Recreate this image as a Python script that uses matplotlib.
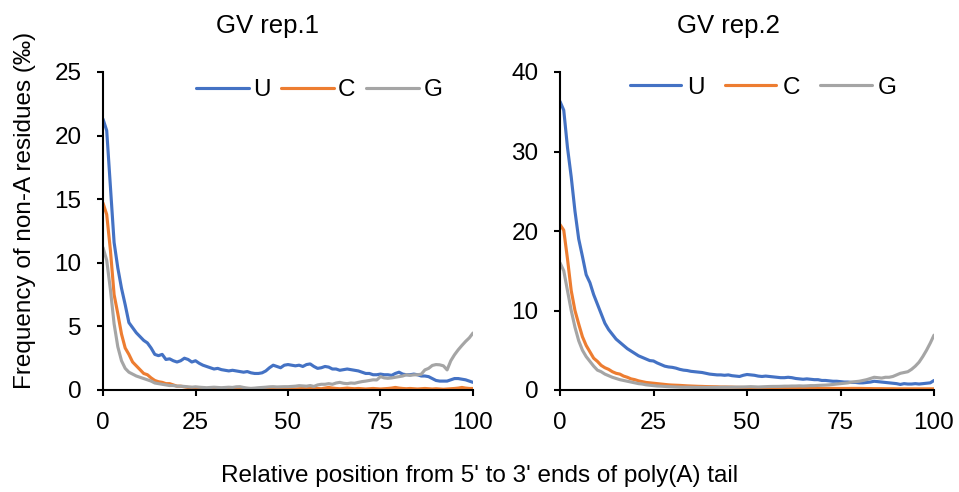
import numpy as np
import matplotlib
matplotlib.use("Agg")
import matplotlib.pyplot as plt

plt.rcParams['font.family'] = ['Liberation Sans', 'DejaVu Sans']

# position along the tail (0..100)
positions = list(range(101))

# GV rep.1 (per mille)
rep1_U = [21.3, 20.4, 16.0, 11.6, 9.6, 8.0, 6.7, 5.3, 4.9, 4.5,
          4.2, 3.9, 3.7, 3.3, 2.8, 2.7, 2.8, 2.4, 2.45, 2.3,
          2.2, 2.3, 2.5, 2.4, 2.2, 2.3, 2.1, 1.95, 1.85, 1.75,
          1.65, 1.7, 1.6, 1.55, 1.5, 1.55, 1.5, 1.45, 1.4, 1.45,
          1.35, 1.3, 1.3, 1.35, 1.5, 1.75, 1.95, 1.85, 1.75, 1.95,
          2.0, 1.95, 1.9, 1.95, 1.85, 2.0, 2.05, 1.85, 1.7, 1.75,
          1.85, 1.8, 1.65, 1.65, 1.55, 1.6, 1.65, 1.6, 1.55, 1.5,
          1.4, 1.3, 1.3, 1.2, 1.2, 1.25, 1.2, 1.2, 1.15, 1.3,
          1.4, 1.25, 1.2, 1.2, 1.25, 1.2, 1.1, 1.1, 1.05, 0.9,
          0.75, 0.7, 0.7, 0.7, 0.8, 0.9, 0.9, 0.85, 0.8, 0.7,
          0.6]
rep1_C = [14.7, 13.8, 11.0, 7.5, 6.0, 4.4, 3.3, 2.8, 2.2, 1.9,
          1.6, 1.3, 1.2, 0.95, 0.75, 0.65, 0.6, 0.5, 0.5, 0.4,
          0.3, 0.3, 0.25, 0.2, 0.2, 0.12, 0.08, 0.1, 0.08, 0.1,
          0.08, 0.1, 0.12, 0.1, 0.08, 0.1, 0.1, 0.08, 0.1, 0.12,
          0.1, 0.08, 0.1, 0.1, 0.08, 0.1, 0.12, 0.1, 0.08, 0.06,
          0.08, 0.1, 0.08, 0.1, 0.12, 0.1, 0.15, 0.2, 0.12, 0.1,
          0.15, 0.2, 0.15, 0.12, 0.1, 0.12, 0.15, 0.12, 0.1, 0.12,
          0.1, 0.08, 0.1, 0.12, 0.1, 0.08, 0.1, 0.12, 0.15, 0.2,
          0.15, 0.12, 0.1, 0.12, 0.1, 0.08, 0.1, 0.12, 0.1, 0.08,
          0.1, 0.08, 0.06, 0.08, 0.1, 0.12, 0.15, 0.2, 0.15, 0.12,
          0.12]
rep1_G = [11.2, 10.2, 7.9, 5.2, 3.4, 2.3, 1.7, 1.4, 1.25, 1.1,
          1.0, 0.9, 0.8, 0.7, 0.55, 0.5, 0.45, 0.4, 0.35, 0.35,
          0.3, 0.3, 0.28, 0.25, 0.22, 0.25, 0.22, 0.2, 0.18, 0.2,
          0.22, 0.2, 0.18, 0.2, 0.22, 0.2, 0.25, 0.26, 0.2, 0.15,
          0.13, 0.15, 0.18, 0.2, 0.22, 0.25, 0.26, 0.24, 0.25, 0.26,
          0.26, 0.28, 0.3, 0.34, 0.32, 0.3, 0.35, 0.28, 0.4, 0.45,
          0.45, 0.5, 0.45, 0.55, 0.6, 0.53, 0.5, 0.55, 0.53, 0.6,
          0.66, 0.7, 0.75, 0.8, 0.79, 1.05, 0.95, 0.92, 0.95, 1.0,
          1.05, 1.1, 1.2, 1.15, 1.19, 1.2, 1.24, 1.58, 1.7, 1.93,
          2.0, 1.98, 1.9, 1.58, 2.3, 2.77, 3.16, 3.5, 3.82, 4.1,
          4.48]

# GV rep.2 (per mille)
rep2_U = [36.3, 35.2, 30.5, 26.8, 22.5, 19.0, 16.8, 14.5, 13.5, 12.0,
          10.8, 9.6, 8.4, 7.6, 7.0, 6.4, 6.0, 5.6, 5.2, 4.9,
          4.6, 4.3, 4.1, 3.9, 3.7, 3.65, 3.4, 3.2, 3.0, 2.9,
          2.85, 2.75, 2.6, 2.5, 2.45, 2.35, 2.3, 2.25, 2.2, 2.1,
          2.0, 1.95, 1.9, 1.9, 1.85, 1.9, 1.8, 1.75, 1.7, 1.85,
          1.95, 1.9, 1.85, 1.75, 1.7, 1.75, 1.7, 1.65, 1.6, 1.55,
          1.55, 1.6, 1.55, 1.45, 1.4, 1.35, 1.4, 1.35, 1.3, 1.3,
          1.2, 1.2, 1.15, 1.1, 1.1, 1.05, 1.0, 1.0, 0.95, 0.95,
          0.9, 0.9, 0.95, 1.0, 1.1, 1.05, 1.0, 0.95, 0.9, 0.85,
          0.8, 0.7, 0.8, 0.75, 0.75, 0.8, 0.75, 0.8, 0.85, 0.9,
          1.2]
rep2_C = [20.8, 20.1, 16.5, 12.5, 10.0, 8.3, 6.7, 5.6, 4.8, 4.0,
          3.6, 3.1, 2.8, 2.6, 2.3, 2.1, 2.0, 1.75, 1.6, 1.4,
          1.3, 1.15, 1.05, 0.95, 0.9, 0.85, 0.8, 0.75, 0.7, 0.65,
          0.62, 0.6, 0.58, 0.55, 0.52, 0.5, 0.48, 0.46, 0.45, 0.43,
          0.42, 0.41, 0.4, 0.38, 0.38, 0.37, 0.36, 0.34, 0.33, 0.32,
          0.3, 0.3, 0.29, 0.28, 0.28, 0.27, 0.27, 0.26, 0.25, 0.25,
          0.25, 0.24, 0.24, 0.23, 0.23, 0.22, 0.22, 0.22, 0.21, 0.21,
          0.2, 0.2, 0.2, 0.2, 0.19, 0.19, 0.19, 0.19, 0.2, 0.2,
          0.2, 0.19, 0.18, 0.18, 0.17, 0.17, 0.17, 0.16, 0.16, 0.16,
          0.15, 0.15, 0.15, 0.15, 0.15, 0.15, 0.15, 0.15, 0.15, 0.15,
          0.15]
rep2_G = [16.0, 15.0, 12.5, 10.0, 7.9, 6.2, 5.0, 4.2, 3.6, 3.0,
          2.5, 2.3, 2.0, 1.8, 1.6, 1.45, 1.3, 1.2, 1.1, 1.0,
          0.9, 0.8, 0.75, 0.65, 0.6, 0.55, 0.5, 0.48, 0.45, 0.42,
          0.4, 0.38, 0.36, 0.35, 0.35, 0.34, 0.33, 0.33, 0.32, 0.32,
          0.32, 0.32, 0.33, 0.34, 0.35, 0.35, 0.36, 0.36, 0.37, 0.38,
          0.4, 0.42, 0.4, 0.38, 0.4, 0.42, 0.44, 0.45, 0.45, 0.46,
          0.48, 0.48, 0.5, 0.5, 0.52, 0.5, 0.52, 0.55, 0.55, 0.58,
          0.6, 0.62, 0.65, 0.7, 0.75, 0.8, 0.85, 0.9, 1.0, 1.05,
          1.1, 1.2, 1.3, 1.45, 1.6, 1.55, 1.5, 1.6, 1.6, 1.7,
          1.9, 2.1, 2.2, 2.3, 2.6, 3.0, 3.5, 4.2, 5.0, 5.9,
          6.9]

titles = ["GV rep.1", "GV rep.2"]
ymaxes = [25, 40]
ysteps = [5, 10]
colors = {"U": "#4472C4", "C": "#ED7D31", "G": "#A5A5A5"}

W, H = 959, 492
fig = plt.figure(figsize=(W / 100, H / 100), dpi=100)
ax1 = fig.add_axes([103 / W, 1 - 390 / H, 370 / W, 318 / H])
ax2 = fig.add_axes([560 / W, 1 - 390 / H, 374 / W, 318 / H])

data = [{"U": rep1_U, "C": rep1_C, "G": rep1_G},
        {"U": rep2_U, "C": rep2_C, "G": rep2_G}]

# legend placement, tuned per panel (Excel spacing differs a bit)
leg_anchor = [(0.251, 0.943), (0.187, 0.95)]
leg_hlen = [2.18, 2.1]
leg_tpad = [0.16, 0.25]
leg_cspace = [0.45, 0.85]
title_x = [267, 728]

for i, ax in enumerate([ax1, ax2]):
    for key in ["U", "C", "G"]:
        ax.plot(positions, data[i][key], color=colors[key], lw=2.25,
                label=key, solid_capstyle='round', solid_joinstyle='round')
    ax.set_xlim(0, 100)
    ax.set_ylim(0, ymaxes[i])
    ax.set_xticks([0, 25, 50, 75, 100])
    ax.set_yticks(np.arange(0, ymaxes[i] + 1, ysteps[i]))
    for s in ["top", "right"]:
        ax.spines[s].set_visible(False)
    for s in ["left", "bottom"]:
        ax.spines[s].set_linewidth(1.5)
    ax.tick_params(direction='out', length=4.5, width=1.5, labelsize=17.5, pad=11)
    ax.legend(loc='center left', bbox_to_anchor=leg_anchor[i], ncol=3,
              frameon=False, fontsize=17.5, handlelength=leg_hlen[i],
              handletextpad=leg_tpad[i], columnspacing=leg_cspace[i],
              borderpad=0, borderaxespad=0)
    fig.text(title_x[i] / W, 1 - 33 / H, titles[i], ha='center', va='baseline',
             fontsize=18.5)

fig.text(25 / W, 1 - 32 / H, "Frequency of non-A residues (‰)", rotation=90,
         ha='center', va='top', fontsize=17.5)
fig.text(221 / W, 1 - 482 / H, "Relative position from 5' to 3' ends of poly(A) tail",
         ha='left', va='baseline', fontsize=17.5)

plt.savefig("out.png", dpi=100)
